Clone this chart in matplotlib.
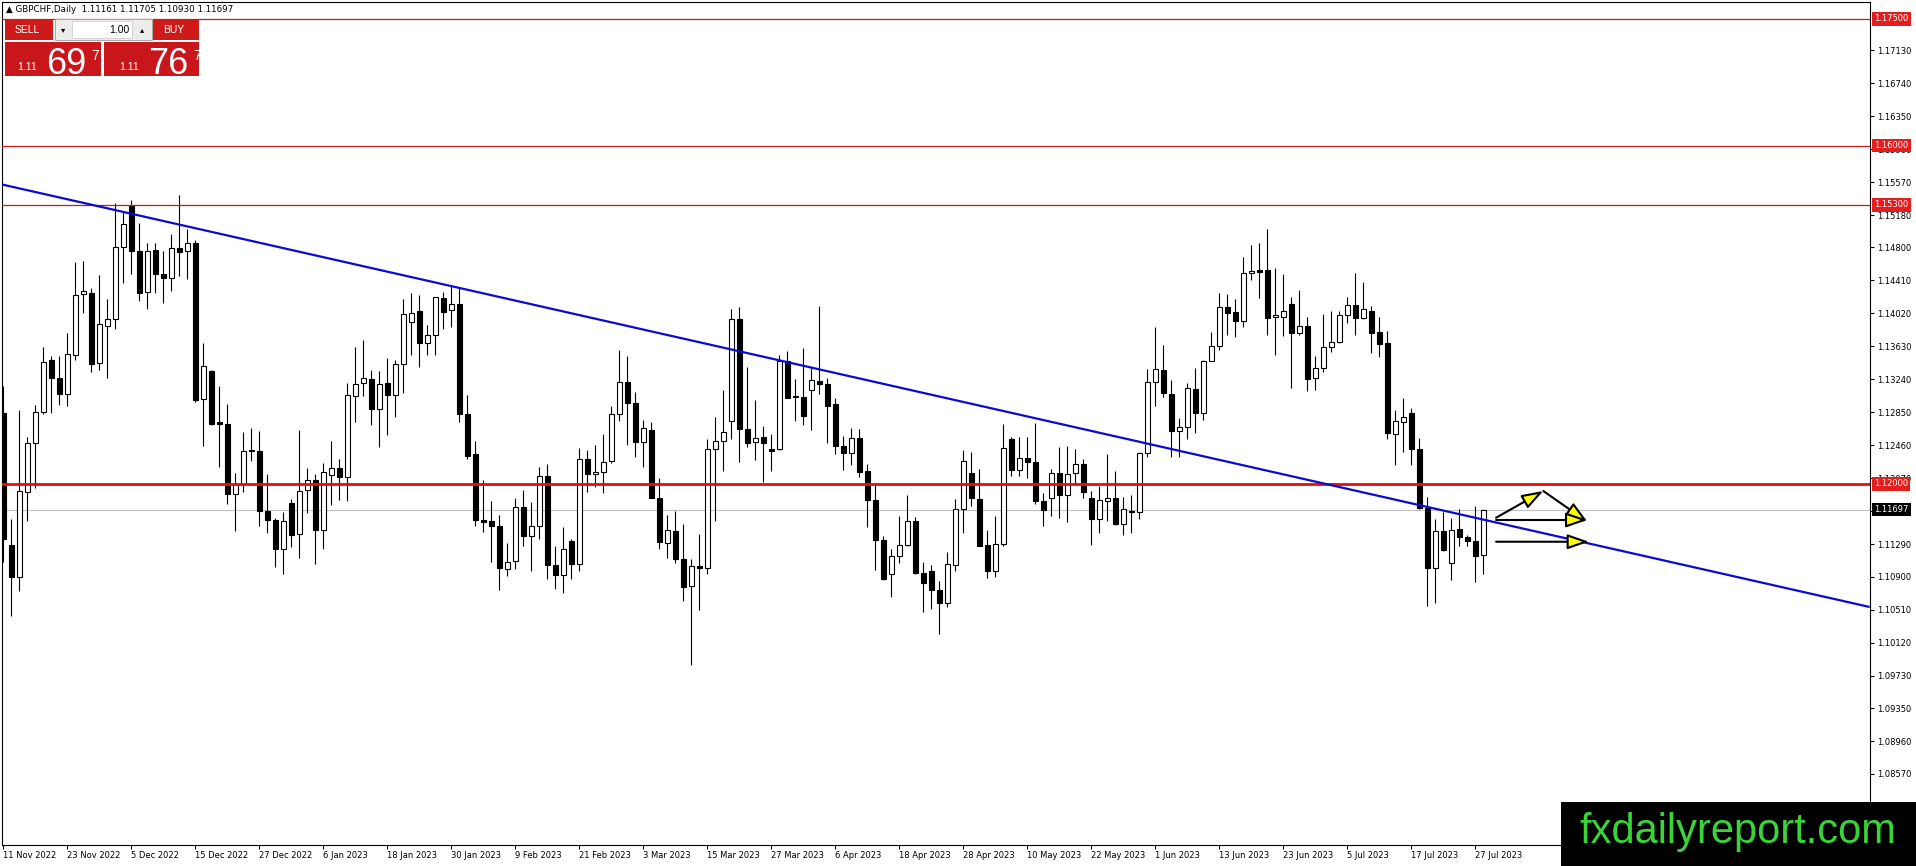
import matplotlib
matplotlib.use("Agg")
import matplotlib.pyplot as plt
from matplotlib.patches import Rectangle
import numpy as np

# Daily GBPCHF bars, 11 Nov 2022 -> 28 Jul 2023
opens = [
    1.12838, 1.11282, 1.10900, 1.11904, 1.12483, 1.12850, 1.13468, 1.13252, 1.13063, 1.13528,
    1.14245, 1.14256, 1.13429, 1.13870, 1.13949, 1.14800, 1.15289, 1.14757, 1.14276, 1.14769,
    1.14481, 1.14442, 1.14788, 1.14757, 1.14851, 1.13003, 1.13338, 1.12732, 1.12712, 1.11885,
    1.12003, 1.12405, 1.12393, 1.11676, 1.11577, 1.11230, 1.11774, 1.11408, 1.11932, 1.12050,
    1.11451, 1.12101, 1.12188, 1.12082, 1.13035, 1.13193, 1.13240, 1.12885, 1.13200, 1.13047,
    1.13417, 1.13914, 1.14048, 1.13673, 1.13760, 1.14205, 1.14056, 1.14126, 1.12826, 1.12357,
    1.11577, 1.11557, 1.11505, 1.10997, 1.11091, 1.11726, 1.11379, 1.11509, 1.12096, 1.11044,
    1.10918, 1.11328, 1.11052, 1.12293, 1.12120, 1.12143, 1.12273, 1.12825, 1.13203, 1.12955,
    1.12502, 1.12640, 1.11832, 1.11300, 1.11446, 1.11115, 1.10796, 1.11032, 1.11005, 1.12411,
    1.12514, 1.12746, 1.13948, 1.12648, 1.12494, 1.12553, 1.12411, 1.12411, 1.13455, 1.13038,
    1.13026, 1.13109, 1.13223, 1.13180, 1.12943, 1.12455, 1.12372, 1.12541, 1.12155, 1.11812,
    1.11340, 1.10934, 1.11150, 1.11273, 1.11564, 1.10946, 1.10973, 1.10749, 1.10591, 1.11044,
    1.11706, 1.12135, 1.11824, 1.11281, 1.10974, 1.11289, 1.12530, 1.12168, 1.12305, 1.12258,
    1.11793, 1.11833, 1.12128, 1.11868, 1.12128, 1.12235, 1.11833, 1.11584, 1.11801, 1.11833,
    1.11525, 1.11683, 1.11663, 1.12365, 1.13212, 1.13350, 1.13062, 1.12621, 1.12680, 1.13125,
    1.12837, 1.13460, 1.13637, 1.14090, 1.14031, 1.13933, 1.14492, 1.14528, 1.14532, 1.13972,
    1.13980, 1.14126, 1.13783, 1.13870, 1.13259, 1.13369, 1.13621, 1.13677, 1.13996, 1.14118,
    1.13968, 1.14047, 1.13795, 1.13665, 1.12589, 1.12739, 1.12837, 1.12412, 1.11714, 1.11005,
    1.11447, 1.11064, 1.11466, 1.11372, 1.11328, 1.11161,
]
highs = [
    1.13161, 1.11585, 1.12870, 1.12554, 1.12933, 1.13618, 1.13508, 1.13516, 1.13791, 1.14627,
    1.14639, 1.14323, 1.14469, 1.14189, 1.15320, 1.15214, 1.15360, 1.15084, 1.14847, 1.14847,
    1.14757, 1.14954, 1.15419, 1.15013, 1.14887, 1.13665, 1.13350, 1.13161, 1.12944, 1.12129,
    1.12613, 1.12661, 1.12629, 1.12117, 1.11597, 1.11668, 1.11822, 1.12641, 1.12188, 1.12117,
    1.12247, 1.12511, 1.12294, 1.13193, 1.13626, 1.13705, 1.13350, 1.13331, 1.13488, 1.13468,
    1.14189, 1.14256, 1.14237, 1.13882, 1.14217, 1.14276, 1.14343, 1.14335, 1.13055, 1.12511,
    1.12050, 1.11802, 1.11635, 1.11300, 1.11832, 1.11931, 1.11785, 1.12206, 1.12234, 1.11261,
    1.11497, 1.11347, 1.12431, 1.12403, 1.12462, 1.12593, 1.12923, 1.13585, 1.13514, 1.13085,
    1.12758, 1.12730, 1.12069, 1.11635, 1.11682, 1.11529, 1.11111, 1.11411, 1.12529, 1.12797,
    1.13113, 1.14066, 1.14090, 1.13380, 1.12994, 1.12687, 1.12593, 1.13526, 1.13574, 1.13239,
    1.13605, 1.13369, 1.14105, 1.13251, 1.13014, 1.12573, 1.12660, 1.12648, 1.12238, 1.12009,
    1.11387, 1.11233, 1.11627, 1.11872, 1.11615, 1.11072, 1.11036, 1.10847, 1.11194, 1.11820,
    1.12403, 1.12384, 1.12179, 1.11458, 1.11616, 1.12711, 1.12554, 1.12554, 1.12550, 1.12727,
    1.11892, 1.12175, 1.12436, 1.12444, 1.12416, 1.12294, 1.11919, 1.11971, 1.12353, 1.12156,
    1.11841, 1.11872, 1.12384, 1.13358, 1.13862, 1.13645, 1.13231, 1.12778, 1.13200, 1.13369,
    1.13468, 1.13803, 1.14256, 1.14244, 1.14185, 1.14681, 1.14827, 1.14847, 1.15012, 1.14551,
    1.14484, 1.14209, 1.14295, 1.13980, 1.13515, 1.14011, 1.14047, 1.14051, 1.14216, 1.14492,
    1.14386, 1.14106, 1.13980, 1.13811, 1.12877, 1.13015, 1.12897, 1.12542, 1.11841, 1.11584,
    1.11667, 1.11596, 1.11703, 1.11399, 1.11742, 1.11705,
]
lows = [
    1.11073, 1.10442, 1.10730, 1.11557, 1.11951, 1.12830, 1.12838, 1.12933, 1.12917, 1.13468,
    1.14028, 1.13330, 1.13350, 1.13248, 1.13839, 1.14382, 1.14481, 1.14170, 1.14067, 1.14256,
    1.14138, 1.14288, 1.14461, 1.14426, 1.12964, 1.12444, 1.12700, 1.12200, 1.11766, 1.11439,
    1.11900, 1.12267, 1.11498, 1.11420, 1.11018, 1.10935, 1.11254, 1.11124, 1.11656, 1.11053,
    1.11230, 1.11747, 1.11814, 1.11794, 1.12732, 1.13035, 1.12692, 1.12436, 1.12582, 1.12787,
    1.13082, 1.13520, 1.13378, 1.13520, 1.13520, 1.13835, 1.13851, 1.12739, 1.12298, 1.11498,
    1.11431, 1.11073, 1.10741, 1.10906, 1.10993, 1.11269, 1.10965, 1.11351, 1.10875, 1.10756,
    1.10709, 1.10879, 1.10965, 1.11911, 1.11970, 1.11899, 1.12254, 1.12750, 1.12463, 1.12325,
    1.12206, 1.11830, 1.11233, 1.11123, 1.11064, 1.10611, 1.09854, 1.10512, 1.10934, 1.11568,
    1.12155, 1.12533, 1.12266, 1.12443, 1.12285, 1.12021, 1.12159, 1.12403, 1.13014, 1.12750,
    1.12699, 1.12640, 1.13061, 1.12490, 1.12356, 1.12167, 1.12226, 1.12088, 1.11497, 1.10977,
    1.10865, 1.10658, 1.11064, 1.11269, 1.10936, 1.10485, 1.10520, 1.10225, 1.10540, 1.10965,
    1.11418, 1.11734, 1.11261, 1.10886, 1.10895, 1.11261, 1.12097, 1.12097, 1.12069, 1.11766,
    1.11498, 1.11624, 1.11596, 1.11545, 1.11990, 1.11833, 1.11281, 1.11419, 1.11565, 1.11510,
    1.11399, 1.11419, 1.11588, 1.12325, 1.12924, 1.13034, 1.12325, 1.12325, 1.12530, 1.12601,
    1.12759, 1.13456, 1.13586, 1.13763, 1.13736, 1.13854, 1.14413, 1.14197, 1.13763, 1.13527,
    1.13751, 1.13141, 1.13763, 1.13105, 1.13113, 1.13330, 1.13566, 1.13665, 1.13901, 1.13763,
    1.13948, 1.13554, 1.13499, 1.12530, 1.12227, 1.12384, 1.12227, 1.11703, 1.10552, 1.10592,
    1.11202, 1.10867, 1.11261, 1.11261, 1.10836, 1.10930,
]
closes = [
    1.11349, 1.10900, 1.11912, 1.12483, 1.12850, 1.13441, 1.13248, 1.13063, 1.13535, 1.14233,
    1.14280, 1.13417, 1.13890, 1.13949, 1.14800, 1.15072, 1.14761, 1.14264, 1.14761, 1.14481,
    1.14442, 1.14788, 1.14749, 1.14847, 1.12996, 1.13390, 1.12712, 1.12708, 1.11881, 1.11999,
    1.12393, 1.12385, 1.11676, 1.11569, 1.11230, 1.11561, 1.11392, 1.11920, 1.12042, 1.11451,
    1.12141, 1.12188, 1.12078, 1.13051, 1.13181, 1.13248, 1.12885, 1.13181, 1.13047, 1.13417,
    1.14008, 1.14028, 1.13673, 1.13760, 1.14209, 1.14040, 1.14126, 1.12826, 1.12334, 1.11569,
    1.11546, 1.11498, 1.11005, 1.11083, 1.11726, 1.11379, 1.11509, 1.12100, 1.11036, 1.10918,
    1.11229, 1.11052, 1.12293, 1.12116, 1.12143, 1.12258, 1.12825, 1.13203, 1.12955, 1.12502,
    1.12660, 1.11840, 1.11308, 1.11458, 1.11111, 1.10776, 1.11032, 1.11005, 1.12411, 1.12514,
    1.12620, 1.13948, 1.12648, 1.12490, 1.12549, 1.12482, 1.12395, 1.13455, 1.13022, 1.13026,
    1.12809, 1.13227, 1.13180, 1.12927, 1.12455, 1.12372, 1.12541, 1.12147, 1.11812, 1.11332,
    1.10875, 1.11150, 1.11273, 1.11564, 1.10946, 1.10827, 1.10741, 1.10591, 1.11052, 1.11706,
    1.12273, 1.11832, 1.11269, 1.10973, 1.11289, 1.12424, 1.12168, 1.12305, 1.12258, 1.11793,
    1.11695, 1.12128, 1.11868, 1.12116, 1.12235, 1.11900, 1.11584, 1.11813, 1.11833, 1.11525,
    1.11703, 1.11667, 1.12365, 1.13212, 1.13358, 1.13074, 1.12621, 1.12680, 1.13133, 1.12837,
    1.13460, 1.13633, 1.14090, 1.14027, 1.13933, 1.14492, 1.14520, 1.14512, 1.13968, 1.14000,
    1.14047, 1.13783, 1.13870, 1.13243, 1.13369, 1.13621, 1.13677, 1.13996, 1.14118, 1.13968,
    1.14071, 1.13783, 1.13657, 1.12601, 1.12747, 1.12798, 1.12412, 1.11714, 1.11005, 1.11447,
    1.11214, 1.11458, 1.11372, 1.11320, 1.11143, 1.11697,
]

date_labels = ["11 Nov 2022", "23 Nov 2022", "5 Dec 2022", "15 Dec 2022", "27 Dec 2022",
               "6 Jan 2023", "18 Jan 2023", "30 Jan 2023", "9 Feb 2023", "21 Feb 2023",
               "3 Mar 2023", "15 Mar 2023", "27 Mar 2023", "6 Apr 2023", "18 Apr 2023",
               "28 Apr 2023", "10 May 2023", "22 May 2023", "1 Jun 2023", "13 Jun 2023",
               "23 Jun 2023", "5 Jul 2023", "17 Jul 2023", "27 Jul 2023"]
price_ticks = [1.17130, 1.16740, 1.16350, 1.15960, 1.15570, 1.15180, 1.14800, 1.14410,
               1.14020, 1.13630, 1.13240, 1.12850, 1.12460, 1.12070, 1.11680, 1.11290,
               1.10900, 1.10510, 1.10120, 1.09730, 1.09350, 1.08960, 1.08570]

# drawn objects
resistance_thin = [1.17500, 1.16000, 1.15300]
level_main = 1.12000
bid = 1.11697
trend_bars = [-0.41, 233.3]
trend_prices = [1.15548, 1.10545]
# arrows: (bar_from, price_from, bar_to, price_to)
arrows = [
    (186.6, 1.11601, 192.5, 1.11917),
    (192.5, 1.11917, 198.0, 1.11554),
    (186.6, 1.11574, 198.0, 1.11574),
    (186.6, 1.11317, 198.2, 1.11317),
]

W, H = 1916, 866
fig = plt.figure(figsize=(W / 100, H / 100), dpi=100)
fig.patch.set_facecolor("white")

ax = fig.add_axes([2 / W, 21 / H, 1868 / W, 843 / H])
ax.set_xlim(-0.16, 233.34)
ax.set_ylim(1.07730, 1.17701)

x = np.arange(len(opens))
o = np.array(opens)
c = np.array(closes)
up = c >= o

ax.vlines(x, lows, highs, color="black", lw=0.8, zorder=2)
body_lo = np.minimum(o, c)
body_h = np.maximum(np.abs(c - o), 0.00002)
ax.bar(x[up], body_h[up], bottom=body_lo[up], width=0.58, color="white",
       edgecolor="black", linewidth=0.8, zorder=3)
ax.bar(x[~up], body_h[~up], bottom=body_lo[~up], width=0.58, color="black",
       edgecolor="black", linewidth=0.8, zorder=3)

# lines
ax.axhline(bid, color="#c0c0c0", lw=0.8, zorder=1)
for lvl in resistance_thin:
    ax.axhline(lvl, color="#c41a1a", lw=0.9, zorder=4)
ax.axhline(level_main, color="#e80c0c", lw=2.0, zorder=4)
ax.plot(trend_bars, trend_prices, color="#0a0ad2", lw=1.6, zorder=5,
        solid_capstyle="butt")

for x0, y0, x1, y1 in arrows:
    ax.annotate("", xy=(x1, y1), xytext=(x0, y0),
                arrowprops=dict(arrowstyle="-|>,head_length=13,head_width=4.5",
                                mutation_scale=1, fc="#ffff00", ec="black", lw=1.5,
                                shrinkA=0, shrinkB=0),
                zorder=6)

# axes styling
for s in ax.spines.values():
    s.set_color("black")
    s.set_linewidth(0.8)
ax.yaxis.tick_right()
ax.set_yticks(price_ticks)
ax.set_yticklabels([f"{p:.5f}" for p in price_ticks])
ax.set_xticks(np.arange(len(date_labels)) * 8)
ax.set_xticklabels(date_labels, ha="left")
ax.tick_params(axis="y", direction="out", length=3, width=0.8, pad=2,
               labelsize=6, colors="black")
ax.tick_params(axis="x", direction="out", length=3, width=0.8, pad=1.5,
               labelsize=6, colors="black")

# right-side price tags
for lvl, col in [(1.17500, "#e41e1e"), (1.16000, "#e41e1e"), (1.15300, "#e41e1e"),
                 (level_main, "#e41e1e"), (bid, "black")]:
    ax.annotate(f"{lvl:.5f}", xy=(1, lvl), xycoords=("axes fraction", "data"),
                xytext=(3, 0), textcoords="offset points", va="center", ha="left",
                fontsize=6, color="white", annotation_clip=False, zorder=10,
                bbox=dict(boxstyle="square,pad=0.25", fc=col, ec="none"))

# overlay in pixel coords for the trade panel, header and watermark
ov = fig.add_axes([0, 0, 1, 1], zorder=20)
ov.set_xlim(0, W)
ov.set_ylim(H, 0)
ov.axis("off")
ov.patch.set_alpha(0)

ov.text(6, 9, "\u25B2 GBPCHF,Daily  1.11161 1.11705 1.10930 1.11697",
        fontsize=6.3, va="center", ha="left", color="black")

red = "#cf1a1a"
ov.add_patch(Rectangle((5, 19), 48, 21, fc=red, ec="none"))
ov.add_patch(Rectangle((153, 19), 46, 21, fc=red, ec="none"))
ov.add_patch(Rectangle((5, 42), 96, 34, fc="#c8161a", ec="none"))
ov.add_patch(Rectangle((104, 42), 95, 34, fc="#c8161a", ec="none"))
ov.add_patch(Rectangle((55, 19), 97, 21, fc="#ececec", ec="#a8a8a8", lw=0.7))
ov.add_patch(Rectangle((72, 21), 60, 17, fc="white", ec="#c8c8c8", lw=0.5))
ov.text(63, 29.5, "\u25BE", fontsize=6, ha="center", va="center", color="black")
ov.text(142, 29.5, "\u25B4", fontsize=6, ha="center", va="center", color="black")
ov.text(129, 30, "1.00", fontsize=7.5, ha="right", va="center", color="black",
        family="Liberation Sans")
ov.text(15, 30, "SELL", fontsize=7.5, ha="left", va="center", color="white",
        family="Liberation Sans")
ov.text(163, 30, "BUY", fontsize=7.5, ha="left", va="center", color="white",
        family="Liberation Sans")

for x0, big in [(17, "69"), (119, "76")]:
    ov.text(x0, 70, "1.11", fontsize=7.5, ha="left", va="baseline", color="white",
            family="Liberation Sans")
    ov.text(x0 + 29, 74, big, fontsize=26, ha="left", va="baseline", color="white",
            family="Liberation Sans")
    ov.text(x0 + 74, 60, "7", fontsize=10, ha="left", va="baseline", color="white",
            family="Liberation Sans")

# watermark
ov.add_patch(Rectangle((1561, 802), W - 1561, H - 802, fc="black", ec="none"))
ov.text(1738, 832, "fxdailyreport.com", fontsize=30, ha="center",
        va="center", color="#3ad43a", family="Liberation Sans")

fig.savefig("out.png", dpi=100)
